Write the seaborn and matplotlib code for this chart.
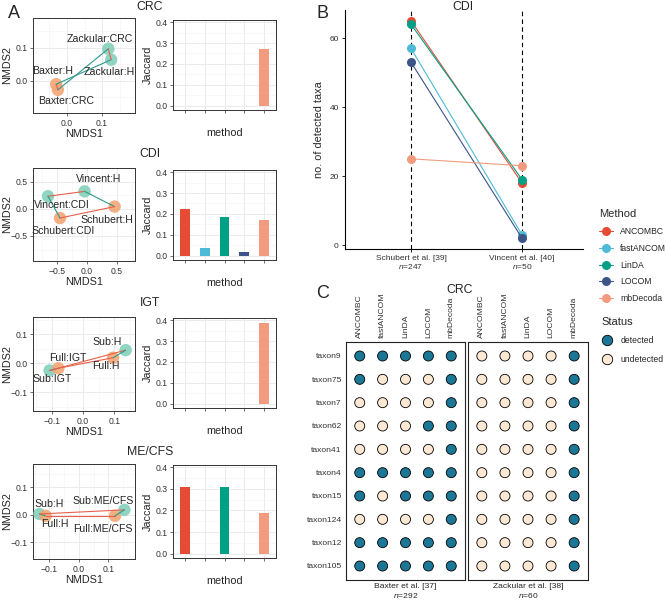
import numpy as np
import pandas as pd
import matplotlib
matplotlib.use('Agg')
import matplotlib.pyplot as plt
import seaborn as sns
from matplotlib.lines import Line2D
from matplotlib.ticker import FuncFormatter

sns.set_theme(style='white')
plt.rcParams['font.family'] = ['Liberation Sans', 'DejaVu Sans']
plt.rcParams['mathtext.fontset'] = 'custom'
plt.rcParams['mathtext.it'] = 'Liberation Sans:italic'
plt.rcParams['mathtext.rm'] = 'Liberation Sans'

# ---------------- data ----------------
methods = ['ANCOMBC', 'fastANCOM', 'LinDA', 'LOCOM', 'mbDecoda']
method_colors = ['#E64B35', '#4DBBD5', '#00A087', '#3C5488', '#F39B7F']

# panel A: NMDS coordinates
crc_points = ['Baxter:H', 'Baxter:CRC', 'Zackular:CRC', 'Zackular:H']
crc_x = [-0.031, -0.026, 0.118, 0.126]
crc_y = [-0.010, -0.027, 0.097, 0.064]

cdi_points = ['Vincent:CDI', 'Vincent:H', 'Schubert:H', 'Schubert:CDI']
cdi_x = [-0.65, -0.04, 0.46, -0.45]
cdi_y = [0.23, 0.32, 0.04, -0.17]

igt_points = ['Sub:IGT', 'Full:IGT', 'Full:H', 'Sub:H']
igt_x = [-0.107, -0.079, 0.096, 0.136]
igt_y = [-0.025, -0.017, 0.019, 0.045]

mecfs_points = ['Sub:H', 'Full:H', 'Full:ME/CFS', 'Sub:ME/CFS']
mecfs_x = [-0.134, -0.113, 0.123, 0.155]
mecfs_y = [0.003, -0.004, -0.004, 0.018]

# panel A: Jaccard index per method
jac_crc = [0, 0, 0, 0, 0.272]
jac_cdi = [0.222, 0.035, 0.185, 0.018, 0.172]
jac_igt = [0, 0, 0, 0, 0.384]
jac_mecfs = [0.308, 0, 0.308, 0, 0.188]

# panel B: number of detected taxa
b_studies = ['Schubert et al. [39]', 'Vincent et al. [40]']
b_n = [247, 50]
b_schubert = [65, 57, 64, 53, 25]
b_vincent = [18, 3, 19, 2, 23]

# panel C: detection status (1 = detected)
taxa = ['taxon9', 'taxon75', 'taxon7', 'taxon62', 'taxon41',
        'taxon4', 'taxon15', 'taxon124', 'taxon12', 'taxon105']
c_studies = ['Baxter et al. [37]', 'Zackular et al. [38]']
c_n = [292, 60]
baxter_ancombc = [1, 1, 0, 0, 0, 1, 1, 0, 1, 1]
baxter_fastancom = [1, 0, 0, 0, 0, 1, 0, 0, 1, 1]
baxter_linda = [1, 0, 0, 0, 0, 1, 1, 0, 1, 1]
baxter_locom = [1, 0, 0, 1, 0, 1, 1, 0, 1, 1]
baxter_mbdecoda = [1, 1, 1, 1, 1, 1, 1, 1, 1, 1]
zackular_ancombc = [0, 0, 0, 0, 0, 0, 0, 0, 0, 0]
zackular_fastancom = [0, 0, 0, 0, 0, 0, 0, 0, 0, 0]
zackular_linda = [0, 0, 0, 0, 0, 0, 0, 0, 0, 0]
zackular_locom = [0, 0, 0, 0, 0, 0, 0, 0, 0, 0]
zackular_mbdecoda = [1, 1, 1, 1, 1, 1, 1, 1, 1, 1]

# ---------------- layout ----------------
W, H = 666, 600
fig = plt.figure(figsize=(W / 100, H / 100), dpi=100)


def add_ax(x0, y0, x1, y1):
    return fig.add_axes([x0 / W, 1 - y1 / H, (x1 - x0) / W, (y1 - y0) / H])


def fmt1(v, p):
    return f'{v:.1f}'.replace('-', '\u2212')


ORANGE = '#F3A676'
TEAL = '#84D0BC'
RED = '#E8604A'
DTEAL = '#2E9A8C'
BORDER = '#333333'
GRID = '#EBEBEB'


def style_bw(ax, xt, xminor, yt, yminor):
    ax.set_xticks(xt)
    ax.set_xticks(xminor, minor=True)
    ax.set_yticks(yt)
    ax.set_yticks(yminor, minor=True)
    ax.grid(which='major', color=GRID, lw=0.7)
    ax.grid(which='minor', color='#F4F4F4', lw=0.45)
    ax.set_axisbelow(True)
    for s in ax.spines.values():
        s.set_color(BORDER)
        s.set_linewidth(0.7)
    ax.tick_params(which='major', labelsize=6.2, length=2.5, width=0.5, color=BORDER,
                   labelcolor='#333333', pad=1.5, bottom=True, left=True)
    ax.tick_params(which='minor', length=0)


def nmds(ax, names, xs, ys, lab_xy, orange_study, xlim, ylim, ticks, minor):
    df = pd.DataFrame({'name': names, 'x': xs, 'y': ys})
    df['study'] = df['name'].str.split(':').str[0]
    df['cond'] = df['name'].str.split(':').str[1]
    pal = {s: (ORANGE if s == orange_study else TEAL) for s in df['study'].unique()}
    sns.scatterplot(data=df, x='x', y='y', hue='study', palette=pal, s=80, alpha=0.9,
                    linewidth=0, legend=False, ax=ax, zorder=3)
    # red = same study, teal = same condition across studies
    for i in range(len(df)):
        for j in range(i + 1, len(df)):
            a, b = df.iloc[i], df.iloc[j]
            if a.study == b.study:
                col = RED
            elif a.cond == b.cond:
                col = DTEAL
            else:
                continue
            ax.plot([a.x, b.x], [a.y, b.y], color=col, lw=0.8, zorder=4)
    for name, (tx, ty) in zip(names, lab_xy):
        ax.text(tx, ty, name, ha='center', va='center', fontsize=7.6, zorder=5)
    ax.set_xlim(*xlim)
    ax.set_ylim(*ylim)
    style_bw(ax, ticks[0], minor[0], ticks[1], minor[1])
    ax.xaxis.set_major_formatter(FuncFormatter(fmt1))
    ax.yaxis.set_major_formatter(FuncFormatter(fmt1))
    ax.set_xlabel('NMDS1', fontsize=7.8, labelpad=1)
    ax.set_ylabel('NMDS2', fontsize=7.8)
    ax.yaxis.set_label_coords(-0.2, 0.5)


def jaccard(ax, vals):
    df = pd.DataFrame({'method': methods, 'jaccard': vals})
    sns.barplot(data=df, x='method', y='jaccard', hue='method', order=methods,
                hue_order=methods, palette=method_colors, saturation=1, width=0.5,
                linewidth=0, legend=False, ax=ax, zorder=3)
    ax.set_xlim(-0.6, 4.6)
    ax.set_ylim(-0.02, 0.41)
    style_bw(ax, range(5), [], [0, 0.1, 0.2, 0.3, 0.4], [0.05, 0.15, 0.25, 0.35])
    ax.set_xticklabels([])
    ax.yaxis.set_major_formatter(FuncFormatter(fmt1))
    ax.set_xlabel('method', fontsize=7.8, labelpad=9)
    ax.set_ylabel('Jaccard', fontsize=7.8, labelpad=2)


rows = [
    dict(title='CRC', ty=7, nbox=(33, 18, 135, 113), bbox=(173, 20, 276, 110),
         names=crc_points, xs=crc_x, ys=crc_y, orange='Baxter', jac=jac_crc,
         lab=[(-0.04, 0.03), (-0.003, -0.06), (0.094, 0.127), (0.12, 0.027)],
         xlim=(-0.097, 0.194), ylim=(-0.097, 0.19),
         ticks=([0, 0.1], [0, 0.1]), minor=([-0.05, 0.05, 0.15], [-0.05, 0.05, 0.15])),
    dict(title='CDI', ty=154, nbox=(33, 168, 135, 261), bbox=(173, 170, 276, 260),
         names=cdi_points, xs=cdi_x, ys=cdi_y, orange='Schubert', jac=jac_cdi,
         lab=[(-0.42, 0.07), (0.2, 0.55), (0.33, -0.2), (-0.39, -0.4)],
         xlim=(-0.9, 0.8), ylim=(-0.96, 0.75),
         ticks=([-0.5, 0, 0.5], [-0.5, 0, 0.5]),
         minor=([-0.75, -0.25, 0.25, 0.75], [-0.75, -0.25, 0.25, 0.75])),
    dict(title='IGT', ty=303, nbox=(33, 317, 135, 411), bbox=(173, 318, 276, 408),
         names=igt_points, xs=igt_x, ys=igt_y, orange='Full', jac=jac_igt,
         lab=[(-0.1, -0.055), (-0.048, 0.017), (0.073, -0.009), (0.078, 0.072)],
         xlim=(-0.16, 0.166), ylim=(-0.164, 0.159),
         ticks=([-0.1, 0, 0.1], [-0.1, 0, 0.1]),
         minor=([-0.15, -0.05, 0.05, 0.15], [-0.15, -0.05, 0.05, 0.15])),
    dict(title='ME/CFS', ty=452, nbox=(33, 464, 135, 559), bbox=(173, 465, 276, 558),
         names=mecfs_points, xs=mecfs_x, ys=mecfs_y, orange='Full', jac=jac_mecfs,
         lab=[(-0.1, 0.04), (-0.082, -0.034), (0.081, -0.052), (0.083, 0.049)],
         xlim=(-0.156, 0.191), ylim=(-0.162, 0.186),
         ticks=([-0.1, 0, 0.1], [-0.1, 0, 0.1]),
         minor=([-0.15, -0.05, 0.05, 0.15], [-0.15, -0.05, 0.05, 0.15])),
]

for r in rows:
    ax = add_ax(*r['nbox'])
    nmds(ax, r['names'], r['xs'], r['ys'], r['lab'], r['orange'], r['xlim'], r['ylim'],
         r['ticks'], r['minor'])
    axb = add_ax(*r['bbox'])
    jaccard(axb, r['jac'])
    fig.text(150 / W, 1 - r['ty'] / H, r['title'], ha='center', va='center', fontsize=8.8)

# ---------------- panel B ----------------
axB = add_ax(345, 10, 583, 249)
dfB = pd.DataFrame({
    'method': methods * 2,
    'pos': [0] * 5 + [1] * 5,
    'count': b_schubert + b_vincent,
})
axB.axvline(0, color='black', ls=(0, (4, 3)), lw=0.8, zorder=1)
axB.axvline(1, color='black', ls=(0, (4, 3)), lw=0.8, zorder=1)
sns.lineplot(data=dfB, x='pos', y='count', hue='method', hue_order=methods,
             palette=method_colors, marker='o', markersize=6.5, markeredgewidth=0,
             lw=0.8, legend=False, ax=axB, zorder=3)
axB.set_xlim(-0.595, 1.55)
axB.set_ylim(-1.15, 68.15)
axB.set_xticks([0, 1])
axB.set_xticklabels([f'{s}\n$n$={n}' for s, n in zip(b_studies, b_n)], fontsize=6.1,
                    linespacing=1.0)
axB.set_yticks([0, 20, 40, 60])
axB.tick_params(labelsize=6, length=2.5, width=0.6, color='black', labelcolor='#333333',
                bottom=True, left=True, pad=2)
for s in ['top', 'right']:
    axB.spines[s].set_visible(False)
for s in ['left', 'bottom']:
    axB.spines[s].set_color('black')
    axB.spines[s].set_linewidth(0.8)
axB.set_xlabel('')
axB.set_ylabel('no. of detected taxa', fontsize=7.8, labelpad=4)
fig.text(463 / W, 1 - 7 / H, 'CDI', ha='center', va='center', fontsize=8.8)

# ---------------- panel C ----------------
status_colors = {'detected': '#1C7796', 'undetected': '#FDE8D3'}
c_data = [
    [baxter_ancombc, baxter_fastancom, baxter_linda, baxter_locom, baxter_mbdecoda],
    [zackular_ancombc, zackular_fastancom, zackular_linda, zackular_locom, zackular_mbdecoda],
]
c_boxes = [(346, 342, 465, 580), (468, 342, 588, 580)]
for k in range(2):
    axC = add_ax(*c_boxes[k])
    recs = []
    for mi, m in enumerate(methods):
        for ti, t in enumerate(taxa):
            recs.append({'mi': mi, 'ti': ti,
                         'status': 'detected' if c_data[k][mi][ti] else 'undetected'})
    dfC = pd.DataFrame(recs)
    sns.scatterplot(data=dfC, x='mi', y='ti', hue='status', palette=status_colors, s=52,
                    edgecolor='black', linewidth=0.6, legend=False, ax=axC, zorder=3)
    axC.set_xlim(-0.6, 4.6)
    axC.set_ylim(9.6, -0.6)
    axC.xaxis.tick_top()
    axC.set_xticks(range(5))
    axC.set_xticklabels(methods, rotation=90, fontsize=6.1, color='#333333')
    axC.set_yticks(range(10))
    if k == 0:
        axC.set_yticklabels(taxa, fontsize=6.1, color='#333333')
    else:
        axC.set_yticklabels([])
    axC.tick_params(length=0, pad=3)
    axC.set_xlabel('')
    axC.set_ylabel('')
    for s in axC.spines.values():
        s.set_color('#222222')
        s.set_linewidth(0.8)
    axC.text(0.5, -0.012, c_studies[k], transform=axC.transAxes, ha='center', va='top',
             fontsize=6.1)
    axC.text(0.5, -0.047, f'$n$={c_n[k]}', transform=axC.transAxes, ha='center', va='top',
             fontsize=6.1)
fig.text(460 / W, 1 - 290 / H, 'CRC', ha='center', va='center', fontsize=8.8)

# ---------------- legends ----------------
m_handles = [Line2D([0], [0], color=c, marker='o', markersize=6.5, markeredgewidth=0, lw=0.8)
             for c in method_colors]
leg1 = fig.legend(m_handles, methods, title='Method', loc='upper left',
                  bbox_to_anchor=(596 / W, 1 - 206 / H), frameon=False, fontsize=6.2,
                  title_fontsize=8, labelspacing=0.9, handlelength=1.6,
                  handletextpad=0.8, alignment='left', borderaxespad=0)
s_handles = [Line2D([0], [0], marker='o', ls='', markerfacecolor=c, markeredgecolor='black',
                    markeredgewidth=0.6, markersize=7.5) for c in status_colors.values()]
leg2 = fig.legend(s_handles, list(status_colors.keys()), title='Status', loc='upper left',
                  bbox_to_anchor=(598 / W, 1 - 314 / H), frameon=False, fontsize=6.2,
                  title_fontsize=8, labelspacing=1.05, handlelength=1.3,
                  handletextpad=0.9, alignment='left', borderaxespad=0)

# panel letters
fig.text(8 / W, 1 - 13 / H, 'A', ha='left', va='center', fontsize=13)
fig.text(316 / W, 1 - 13 / H, 'B', ha='left', va='center', fontsize=13)
fig.text(316 / W, 1 - 294 / H, 'C', ha='left', va='center', fontsize=13)

fig.savefig('out.png', dpi=100)
